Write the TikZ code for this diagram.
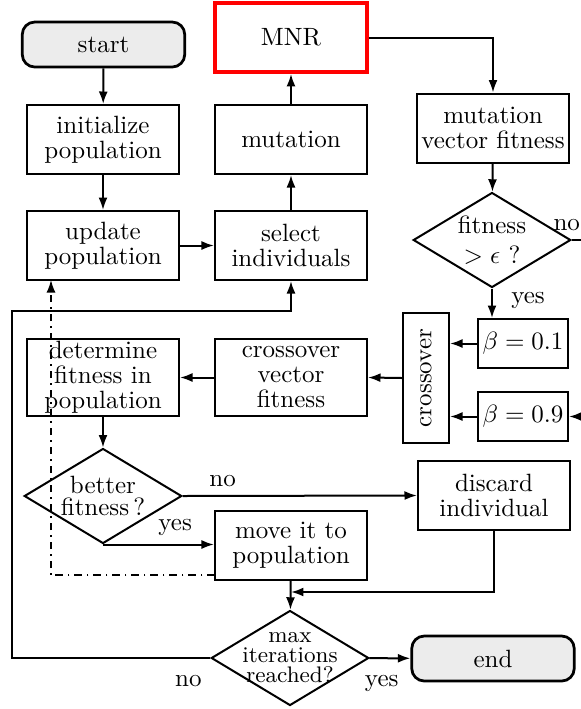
\documentclass[tikz,border=0pt]{standalone}
\usepackage{amsmath}
\usetikzlibrary{arrows.meta,positioning,shapes.geometric}
\newcommand{\tightlines}{\fontsize{10}{10}\selectfont}
\newcommand{\smalllines}{\fontsize{9}{8}\selectfont}

\begin{document}
\begin{tikzpicture}[x=0.4pt, y=-0.4pt,
  block/.style={draw, thick, minimum width=60.8pt, minimum height=27.6pt,
                align=center, inner sep=1pt, font=\tightlines},
  tall/.style={block, minimum height=30.8pt},
  term/.style={draw, line width=1.1pt, fill=gray!15, rounded corners=5pt,
               minimum width=65pt, minimum height=18pt},
  test/.style={draw, thick, diamond, aspect=1.65, inner sep=0pt,
               minimum width=63pt, minimum height=38pt, align=center},
  betabox/.style={draw, thick, minimum width=36pt, minimum height=19.6pt, inner sep=1pt},
  arr/.style={-{Latex[length=5pt,width=3.6pt]}, thick}
]
\useasboundingbox (0,0) rectangle (581,709);
\clip (0,0) rectangle (581,709);
% left column
\node[term]  (start)  at (103.5, 44.5)  {start};
\node[block] (init)   at (103, 139.5)   {initialize\\population};
\node[block] (upd)    at (103, 245.5)   {update\\population};
\node[tall]  (det)    at (103, 377.5)   {determine\\fitness in\\population};
\node[test, font=\fontsize{10}{8.5}\selectfont] (better) at (103, 496) {better\\fitness\,?};
% middle column
\node[block, draw=red, line width=1.5pt] (mnr) at (291, 37.5) {MNR};
\node[block] (mut)    at (291, 139.5)   {mutation};
\node[block] (sel)    at (291, 245.5)   {select\\individuals};
\node[tall]  (cvf)    at (291, 377.5)   {crossover\\vector\\fitness};
\node[block] (move)   at (291, 545.5)   {move it to\\population};
\node[test, font=\smalllines, inner sep=-9pt] (maxit) at (290, 658) {max\\iterations\\reached?};
% right column
\node[block] (mvf)    at (493, 128)     {mutation\\vector fitness};
\node[test]  (fit)    at (492, 240)     {fitness\\$>\epsilon$ ?};
\node[betabox] (b1)   at (523, 343.5)   {$\beta=0.1$};
\node[betabox] (b9)   at (523, 416.5)   {$\beta=0.9$};
\node[draw, thick, rotate=90, minimum width=52pt, minimum height=18.4pt]
             (cross)  at (426, 378)     {crossover};
\node[block] (disc)   at (494, 495.5)   {discard\\individual};
\node[term]  (end)    at (493, 658.5)   {end};
% free ends
\coordinate (offR)  at (620, 240);
\coordinate (join)  at (291, 592);
\coordinate (loopL) at (12, 658);
\coordinate (loopT) at (12, 311);
\coordinate (dd)    at (215, 575);
\coordinate (ddTop) at (51, 280);
% connectors
\draw[arr] (start) -- (init);
\draw[arr] (init) -- (upd);
\draw[arr] (upd) -- (sel);
\draw[arr] (sel) -- (mut);
\draw[arr] (mut) -- (mnr);
\draw[arr] (mnr.east) -| (mvf.north);
\draw[arr] (mvf) -- (fit);
\draw[arr] (fit.south) -- node[right, pos=0.4, xshift=4pt]{yes} (fit.south |- b1.north);
\draw[arr] (fit.east) -- node[above, pos=0, xshift=-2pt]{no} (offR) |- (b9.east);
\draw[arr] (b1.west) -- (b1.west -| cross.south);
\draw[arr] (b9.west) -- (b9.west -| cross.south);
\draw[arr] (cross.north) -- (cvf.east);
\draw[arr] (cvf) -- (det);
\draw[arr] (det) -- (better);
\draw[arr] (better.east) -- node[above, pos=0.17]{no} (disc.west);
\draw[arr] (better.south) -- node[above, pos=0.65]{yes} (better.south -| move.west);
\draw[arr] (move) -- (maxit);
\draw[arr] (disc.south) |- (join);
\draw[arr] (maxit) -- node[below, pos=0.3, yshift=-3pt]{yes} (end);
\draw[arr] (maxit.west) -- node[below, pos=0.11, yshift=-3pt]{no} (loopL) -- (loopT) -| (sel.south);
\draw[arr, semithick, dash dot] (dd) -| (ddTop);
\end{tikzpicture}
\end{document}
